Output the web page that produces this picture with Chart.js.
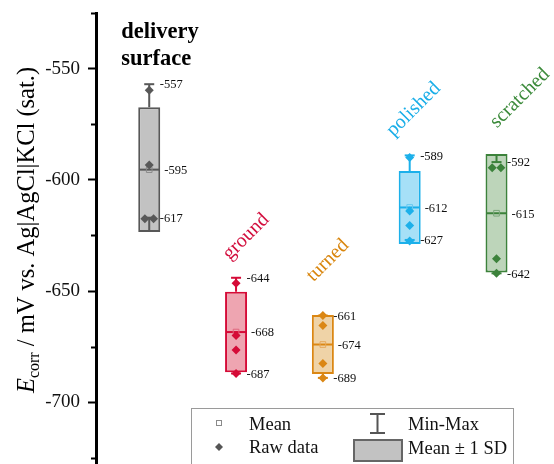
<!DOCTYPE html>
<html>
<head>
<meta charset="utf-8">
<script src="https://cdn.jsdelivr.net/npm/chart.js@4.4.1/dist/chart.umd.min.js"></script>
<style>
  html, body { margin: 0; padding: 0; background: #fff; overflow: hidden; }
  #wrap { width: 554px; height: 464px; }
</style>
</head>
<body>
<div id="wrap"><canvas id="chart" width="554" height="464"></canvas></div>
<script>
// values (mV vs. Ag|AgCl|KCl)
const groups = ['delivery surface', 'ground', 'turned', 'polished', 'scratched'];
const means = [-595.4, -668.4, -674.0, -612.4, -615.0];
const sds = [28.0, 18.1, 13.3, 16.4, 26.6];
const mins = [-617, -687, -689, -627, -642];
const maxs = [-557, -644, -661, -589, -592];
const rawData = [
    [-559.7, -593.3, -617.5, -617.5],
    [-646.5, -670.0, -676.5, -687.0],
    [-661.0, -665.5, -682.5, -689.0],
    [-590.0, -614.0, -620.5, -627.5],
    [-594.5, -594.5, -635.5, -642.0]
];
const yMajorTicks = [-700, -650, -600, -550];
const yMinorTicks = [-725, -675, -625, -575, -525];

const SERIF = "'Liberation Serif', 'Times New Roman', serif";
const lineColors = ['#585858', '#d50b37', '#db8714', '#1cb0ea', '#3c823b'];
const fillColors = ['#c2c2c2', '#eea5b1', '#efd3a7', '#a6e0f7', '#bdd5ba'];
const meanColors = ['#8a8a8a', '#e0677e', '#e6a85a', '#66c8ef', '#7ba77a'];
const nameColors = ['#000000', '#d3103f', '#d9860e', '#1aaee8', '#3b8a3a'];
// label placement relative to box centre / max whisker (px)
const nameOffsets = [[-28, -46], [10, -41], [5, -55], [4, -46], [23.5, -64]];

const xs = groups.map((g, i) => i + 1);

// spread duplicated raw values sideways like the original plot
const rawPoints = [];
const rawColors = [];
rawData.forEach((vals, i) => {
    vals.forEach((v, j) => {
        const same = vals.filter(w => w === v).length;
        const k = vals.slice(0, j).filter(w => w === v).length;
        const off = same > 1 ? (k - (same - 1) / 2) * 0.1 : 0;
        rawPoints.push({ x: xs[i] + off, y: v });
        rawColors.push(lineColors[i]);
    });
});

const capPoints = [];
const capColors = [];
xs.forEach((x, i) => {
    capPoints.push({ x, y: maxs[i] }, { x, y: mins[i] });
    capColors.push(lineColors[i], lineColors[i]);
});

const whiskerSets = xs.map((x, i) => ({
    type: 'line',
    data: [
        { x, y: means[i] + sds[i] }, { x, y: maxs[i] },
        { x, y: null },
        { x, y: means[i] - sds[i] }, { x, y: mins[i] }
    ],
    borderColor: lineColors[i],
    borderWidth: 2,
    pointRadius: 0,
    spanGaps: false,
    fill: false,
    order: 4
}));

const minorTicks = {
    id: 'minorTicks',
    afterDraw(chart) {
        const { ctx, chartArea, scales: { y } } = chart;
        ctx.save();
        ctx.strokeStyle = '#000';
        ctx.lineWidth = 2;
        yMinorTicks.forEach(v => {
            const py = Math.round(y.getPixelForValue(v)) + 0.5;
            ctx.beginPath();
            ctx.moveTo(chartArea.left - 5, py);
            ctx.lineTo(chartArea.left, py);
            ctx.stroke();
        });
        ctx.restore();
    }
};

const yTitle = {
    id: 'yTitle',
    afterDraw(chart) {
        const { ctx } = chart;
        const parts = [
            { t: 'E', f: `italic 24.5px ${SERIF}`, dy: 0 },
            { t: 'corr', f: `16px ${SERIF}`, dy: 5 },
            { t: ' / mV vs. Ag|AgCl|KCl (sat.)', f: `24.5px ${SERIF}`, dy: 0 }
        ];
        ctx.save();
        let total = 0;
        parts.forEach(p => { ctx.font = p.f; p.w = ctx.measureText(p.t).width; total += p.w; });
        ctx.translate(34, 230);
        ctx.rotate(-Math.PI / 2);
        ctx.fillStyle = '#000';
        ctx.textBaseline = 'alphabetic';
        ctx.textAlign = 'left';
        let pos = -total / 2;
        parts.forEach(p => {
            ctx.font = p.f;
            ctx.fillText(p.t, pos, p.dy);
            pos += p.w;
        });
        ctx.restore();
    }
};

const annotations = {
    id: 'annotations',
    afterDatasetsDraw(chart) {
        const { ctx, scales: { x, y } } = chart;
        ctx.save();
        // value labels for max / mean / min
        ctx.font = `12.5px ${SERIF}`;
        ctx.fillStyle = '#111';
        ctx.textAlign = 'left';
        ctx.textBaseline = 'middle';
        xs.forEach((xv, i) => {
            const cx = x.getPixelForValue(xv);
            ctx.fillText(String(Math.round(maxs[i])), cx + 10.5, y.getPixelForValue(maxs[i]) + 1);
            ctx.fillText(String(Math.round(means[i])), cx + 15, y.getPixelForValue(means[i]) + 1);
            ctx.fillText(String(Math.round(mins[i])), cx + 10.5, y.getPixelForValue(mins[i]) + 1);
        });
        // group names
        xs.forEach((xv, i) => {
            const cx = x.getPixelForValue(xv) + nameOffsets[i][0];
            const cy = y.getPixelForValue(maxs[i]) + nameOffsets[i][1];
            ctx.fillStyle = nameColors[i];
            if (i === 0) {
                ctx.font = `bold 22.5px ${SERIF}`;
                ctx.textAlign = 'left';
                ctx.textBaseline = 'alphabetic';
                groups[i].split(' ').forEach((w, k) => ctx.fillText(w, cx, cy + k * 26.5));
            } else {
                ctx.save();
                ctx.font = `20px ${SERIF}`;
                ctx.textAlign = 'center';
                ctx.textBaseline = 'middle';
                ctx.translate(cx, cy);
                ctx.rotate(-Math.PI / 4);
                ctx.fillText(groups[i], 0, 0);
                ctx.restore();
            }
        });
        ctx.restore();
    }
};

const boxLegend = {
    id: 'boxLegend',
    afterDraw(chart) {
        const { ctx } = chart;
        ctx.save();
        ctx.strokeStyle = '#9a9a9a';
        ctx.lineWidth = 1;
        ctx.strokeRect(191.5, 408.5, 322, 80);

        ctx.font = `18.5px ${SERIF}`;
        ctx.fillStyle = '#111';
        ctx.textAlign = 'left';
        ctx.textBaseline = 'middle';
        ctx.fillText('Mean', 249, 425);
        ctx.fillText('Raw data', 249, 448);
        ctx.fillText('Min-Max', 408, 425);
        ctx.fillText('Mean \u00b1 1 SD', 408, 449);

        // mean marker
        ctx.strokeStyle = '#8a8a8a';
        ctx.strokeRect(216.5, 420.5, 5, 5);
        // raw data marker
        ctx.fillStyle = '#555';
        ctx.beginPath();
        ctx.moveTo(219, 443); ctx.lineTo(223, 447); ctx.lineTo(219, 451); ctx.lineTo(215, 447);
        ctx.closePath();
        ctx.fill();
        // min-max marker
        ctx.strokeStyle = '#555';
        ctx.lineWidth = 2;
        ctx.beginPath();
        ctx.moveTo(370, 414); ctx.lineTo(385, 414);
        ctx.moveTo(377.5, 414); ctx.lineTo(377.5, 433);
        ctx.moveTo(370, 433); ctx.lineTo(385, 433);
        ctx.stroke();
        // SD box marker
        ctx.fillStyle = '#c2c2c2';
        ctx.fillRect(353, 439, 50, 23);
        ctx.strokeStyle = '#666';
        ctx.strokeRect(354, 440, 48, 21);
        ctx.restore();
    }
};

new Chart(document.getElementById('chart'), {
    type: 'bar',
    data: {
        datasets: [
            {
                type: 'bar',
                data: xs.map((x, i) => ({ x, y: [means[i] - sds[i], means[i] + sds[i]] })),
                backgroundColor: fillColors,
                borderColor: lineColors,
                borderWidth: 2,
                borderSkipped: false,
                inflateAmount: 0,
                barThickness: 22,
                order: 5
            },
            ...whiskerSets,
            {
                type: 'scatter',
                data: capPoints,
                pointStyle: 'line',
                pointRadius: 5,
                pointBorderWidth: 2,
                pointBorderColor: capColors,
                order: 3
            },
            {
                type: 'scatter',
                data: xs.map((x, i) => ({ x, y: means[i] })),
                pointStyle: 'line',
                pointRadius: 10,
                pointBorderWidth: 2,
                pointBorderColor: lineColors,
                order: 3
            },
            {
                type: 'scatter',
                data: xs.map((x, i) => ({ x, y: means[i] })),
                pointStyle: 'rect',
                pointRadius: 4,
                pointBorderWidth: 1,
                pointBackgroundColor: 'rgba(0,0,0,0)',
                pointBorderColor: meanColors,
                order: 2
            },
            {
                type: 'scatter',
                data: rawPoints,
                pointStyle: 'rectRot',
                pointRadius: 4.5,
                pointBorderWidth: 0,
                pointBackgroundColor: rawColors,
                order: 1
            }
        ]
    },
    options: {
        responsive: false,
        animation: false,
        devicePixelRatio: 1,
        layout: { autoPadding: false, padding: { top: 13, right: 0, bottom: 0, left: 0 } },
        plugins: { legend: { display: false }, tooltip: { enabled: false } },
        scales: {
            x: { type: 'linear', min: 0.387, max: 5.662, offset: false, display: false },
            y: {
                min: -727.7,
                max: -525,
                afterBuildTicks: s => { s.ticks = yMajorTicks.map(v => ({ value: v })); },
                afterFit: s => { s.width = 96; s.paddingTop = 0; s.paddingBottom = 0; },
                ticks: {
                    font: { family: SERIF, size: 19 },
                    color: '#111',
                    padding: 8,
                    callback: v => String(v)
                },
                grid: { drawOnChartArea: false, tickLength: 8, tickWidth: 2, tickColor: '#000' },
                border: { display: true, width: 3, color: '#000' }
            }
        }
    },
    plugins: [minorTicks, yTitle, annotations, boxLegend]
});
</script>
</body>
</html>
